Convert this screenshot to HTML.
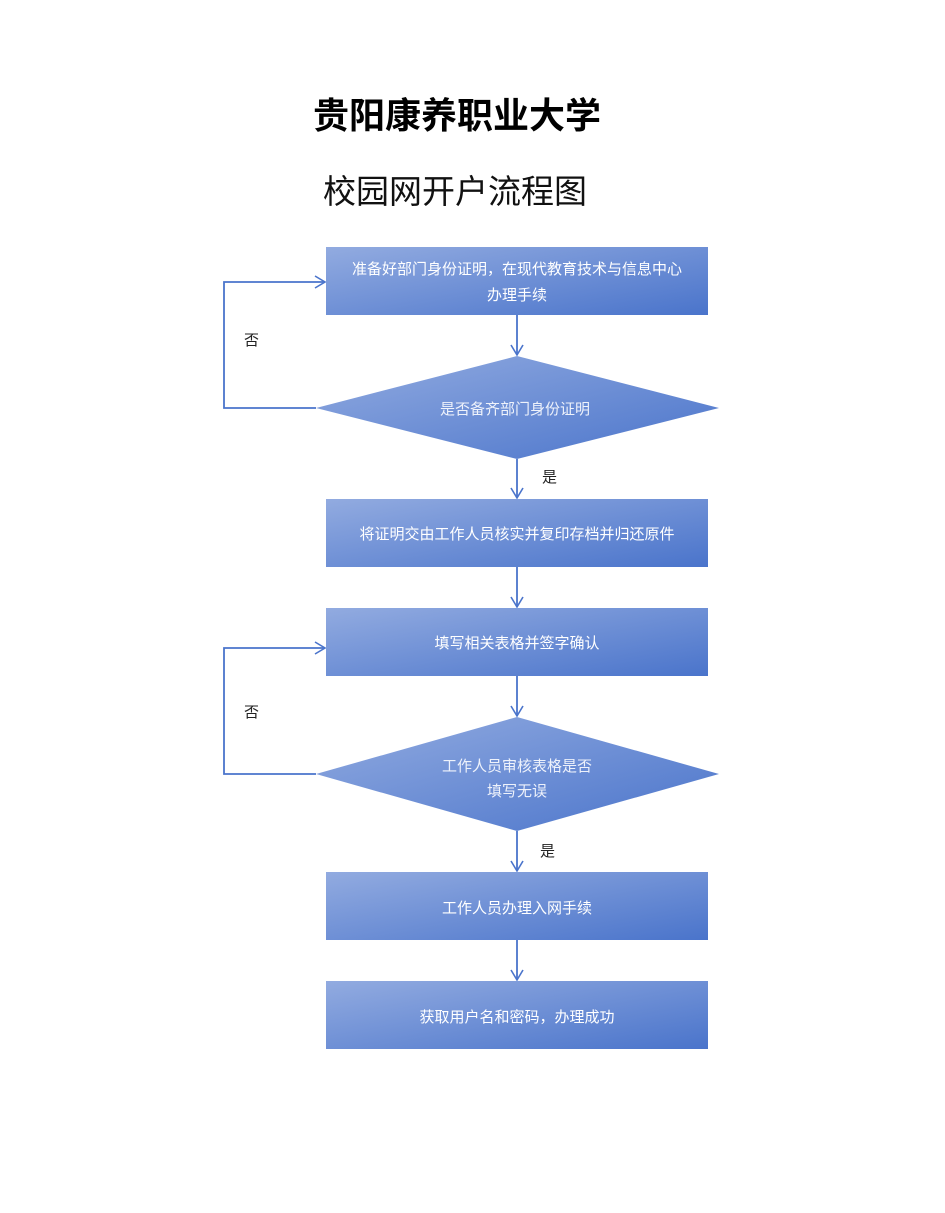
<!DOCTYPE html>
<html><head><meta charset="utf-8"><style>
html,body{margin:0;padding:0;background:#fff;}
svg{display:block;}
text{font-family:"Liberation Sans","Noto Sans CJK SC",sans-serif;}
</style></head><body>
<svg width="945" height="1213" viewBox="0 0 945 1213" xmlns="http://www.w3.org/2000/svg">
<defs>
<linearGradient id="g" x1="0" y1="0" x2="1" y2="1">
<stop offset="0" stop-color="#92abe0"/><stop offset="1" stop-color="#4a74cb"/>
</linearGradient>
<marker id="a" markerWidth="14" markerHeight="14" refX="11" refY="7" orient="auto" markerUnits="userSpaceOnUse">
<path d="M1,1 L11,7 L1,13" fill="none" stroke="#4a74cb" stroke-width="1.6"/>
</marker>
</defs>
<text x="457" y="128" font-size="36" font-weight="bold" text-anchor="middle" fill="#000">贵阳康养职业大学</text>
<text x="455" y="203" font-size="33" text-anchor="middle" fill="#111">校园网开户流程图</text>

<g stroke="#4a74cb" stroke-width="1.8" fill="none">
<line x1="517" y1="315" x2="517" y2="355" marker-end="url(#a)"/>
<line x1="517" y1="459" x2="517" y2="498" marker-end="url(#a)"/>
<line x1="517" y1="567" x2="517" y2="607" marker-end="url(#a)"/>
<line x1="517" y1="676" x2="517" y2="716" marker-end="url(#a)"/>
<line x1="517" y1="831" x2="517" y2="871" marker-end="url(#a)"/>
<line x1="517" y1="940" x2="517" y2="980" marker-end="url(#a)"/>
<polyline points="316,408 224,408 224,282 325,282" marker-end="url(#a)"/>
<polyline points="316,774 224,774 224,648 325,648" marker-end="url(#a)"/>
</g>

<rect x="326" y="247" width="382" height="68" fill="url(#g)"/>
<polygon points="517,356 719,408 517,459 316,408" fill="url(#g)"/>
<rect x="326" y="499" width="382" height="68" fill="url(#g)"/>
<rect x="326" y="608" width="382" height="68" fill="url(#g)"/>
<polygon points="517,717 719,774 517,831 316,774" fill="url(#g)"/>
<rect x="326" y="872" width="382" height="68" fill="url(#g)"/>
<rect x="326" y="981" width="382" height="68" fill="url(#g)"/>

<g fill="#fff" font-size="15" text-anchor="middle">
<text x="517" y="274">准备好部门身份证明，在现代教育技术与信息中心</text>
<text x="517" y="300">办理手续</text>
<text x="517" y="539">将证明交由工作人员核实并复印存档并归还原件</text>
<text x="517" y="648">填写相关表格并签字确认</text>
<text x="517" y="913">工作人员办理入网手续</text>
<text x="517" y="1022">获取用户名和密码，办理成功</text>
</g>
<g fill="#eef2fb" font-size="15" text-anchor="middle">
<text x="515" y="414">是否备齐部门身份证明</text>
<text x="517" y="771">工作人员审核表格是否</text>
<text x="517" y="796">填写无误</text>
</g>
<g fill="#222" font-size="15">
<text x="244" y="345">否</text>
<text x="542" y="482">是</text>
<text x="244" y="717">否</text>
<text x="540" y="856">是</text>
</g>
</svg>
</body></html>
